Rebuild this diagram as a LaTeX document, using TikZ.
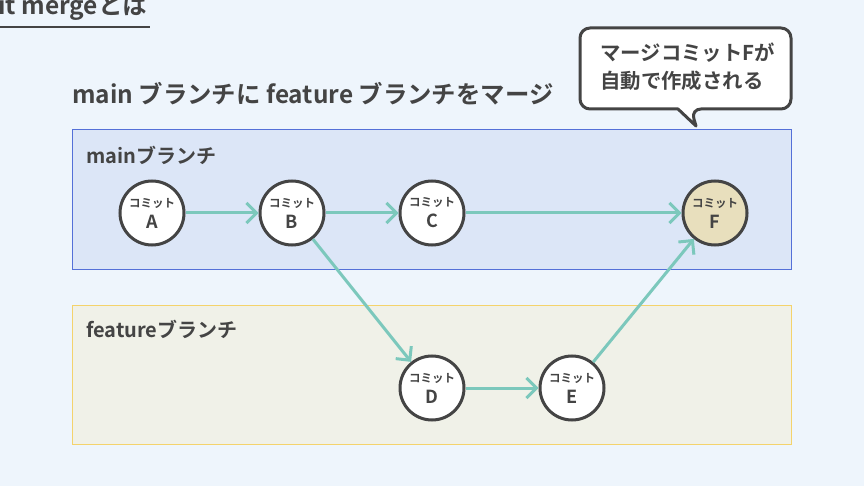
\documentclass[tikz,border=0pt]{standalone}
\usepackage{fontspec}
\setmainfont{Noto Sans CJK JP}[BoldFont={* Bold}]
\usetikzlibrary{arrows.meta, positioning}
\definecolor{mybg}{HTML}{EEF5FC}
\definecolor{myink}{HTML}{444444}
\definecolor{myteal}{HTML}{7CC8BC}
\definecolor{mymainfill}{HTML}{DCE6F7}
\definecolor{mymainline}{HTML}{5470D8}
\definecolor{myfeatfill}{HTML}{F0F1E8}
\definecolor{myfeatline}{HTML}{F4D36C}
\definecolor{mymergefill}{HTML}{E8DFBD}
\newcommand{\mycommit}[1]{{\fontsize{11.5}{13}\selectfont コミット}\\#1}
\tikzset{
         mycommitnode/.style={circle, draw=myink, line width=3pt, fill=white, minimum size=64pt, inner sep=0pt, align=center, text=myink, font=\bfseries\fontsize{18}{21}\selectfont},
         mymergenode/.style={mycommitnode, fill=mymergefill},
         mylane/.style={line width=1pt},
         mylanelabel/.style={anchor=west, inner sep=0pt, text=myink, font=\bfseries\fontsize{20}{22}\selectfont},
         myedge/.style={draw=myteal, line width=3pt},
         mybubble/.style={draw=myink, fill=white, line width=3pt, line join=round}
      }
\begin{document}
\begin{tikzpicture}[x=1pt, y=-1pt, ->, >={Straight Barb[length=10pt,width=20pt]}, node distance=140pt, on grid]
  \fill[mybg] (0,0) rectangle (864,486);
  \useasboundingbox (0,0) rectangle (864,486);
  % title
  \node[anchor=base west, inner sep=0pt, text=myink, font=\bfseries\fontsize{24.5}{26}\selectfont] (title) at (-2,15) {it mergeとは};
  \draw[-, myink, line width=2.5pt] (0,27) -- (150,27);
  \node[anchor=west, inner sep=0pt, text=myink, font=\bfseries\fontsize{24.4}{27}\selectfont] (heading) at (72,94) {main ブランチに feature ブランチをマージ};
  % lanes
  \draw[mylane, -, draw=mymainline, fill=mymainfill] (72,130) rectangle (791,269);
  \draw[mylane, -, draw=myfeatline, fill=myfeatfill] (72,305) rectangle (791,444);
  \node[mylanelabel] (mainlabel) at (86,155) {mainブランチ};
  \node[mylanelabel] (featlabel) at (86,329) {featureブランチ};
  % commits
  \node[mycommitnode] (a) at (152,213) {\mycommit{A}};
  \node[mycommitnode, right=of a] (b) {\mycommit{B}};
  \node[mycommitnode, right=of b] (c) {\mycommit{C}};
  \node[mymergenode, right=283pt of c] (f) {\mycommit{F}};
  \node[mycommitnode, below=175pt of c] (d) {\mycommit{D}};
  \node[mycommitnode, right=of d] (e) {\mycommit{E}};
  \draw[myedge] (a) -- (b);
  \draw[myedge] (b) -- (c);
  \draw[myedge] (c) -- (f);
  \draw[myedge] (b) -- (d);
  \draw[myedge] (d) -- (e);
  \draw[myedge] (e) -- (f);
  % note
  \draw[mybubble, -] (691,109) -- (696,126) -- (678,109) [rounded corners=10pt] -- (580,109) -- (580,28) -- (791,28) -- (791,109) -- cycle;
  \node[anchor=west, align=left, inner sep=0pt, text=myink, font=\bfseries\fontsize{20.4}{28}\selectfont] (note) at (600,67) {マージコミットFが\\自動で作成される};
\end{tikzpicture}
\end{document}
